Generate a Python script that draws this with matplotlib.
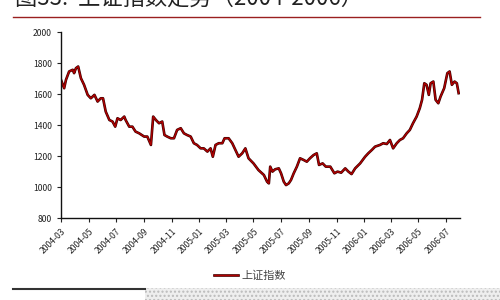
import matplotlib
matplotlib.use('Agg')
import matplotlib.pyplot as plt
import matplotlib.dates as mdates
import matplotlib.patheffects as pe
from matplotlib.lines import Line2D
from matplotlib.patches import Rectangle
import pandas as pd

plt.rcParams['font.family'] = ['Noto Sans CJK SC', 'DejaVu Sans']

# 上证指数 (weekly-ish readings)
dates = [
    '2004-03-01', '2004-03-08', '2004-03-12', '2004-03-19', '2004-03-27', '2004-03-30',
    '2004-04-03', '2004-04-08', '2004-04-14', '2004-04-21', '2004-04-29', '2004-05-06',
    '2004-05-14', '2004-05-21', '2004-05-28', '2004-06-02', '2004-06-08', '2004-06-16',
    '2004-06-23', '2004-06-29', '2004-07-04', '2004-07-11', '2004-07-19', '2004-07-22',
    '2004-07-30', '2004-08-06', '2004-08-13', '2004-08-21', '2004-09-01', '2004-09-08',
    '2004-09-16', '2004-09-21', '2004-09-27', '2004-10-04', '2004-10-11', '2004-10-16',
    '2004-10-22', '2004-10-30', '2004-11-06', '2004-11-13', '2004-11-21', '2004-11-28',
    '2004-12-05', '2004-12-13', '2004-12-20', '2004-12-27', '2005-01-04', '2005-01-11',
    '2005-01-19', '2005-01-26', '2005-01-31', '2005-02-06', '2005-02-13', '2005-02-21',
    '2005-02-26', '2005-03-07', '2005-03-15', '2005-03-22', '2005-03-29', '2005-04-06',
    '2005-04-13', '2005-04-20', '2005-05-01', '2005-05-12', '2005-05-24', '2005-05-31',
    '2005-06-04', '2005-06-07', '2005-06-12', '2005-06-18', '2005-06-26', '2005-07-01',
    '2005-07-07', '2005-07-12', '2005-07-18', '2005-07-23', '2005-07-29', '2005-08-05',
    '2005-08-12', '2005-08-20', '2005-08-27', '2005-09-03', '2005-09-11', '2005-09-18',
    '2005-09-23', '2005-10-01', '2005-10-08', '2005-10-18', '2005-10-27', '2005-11-03',
    '2005-11-11', '2005-11-20', '2005-11-27', '2005-12-04', '2005-12-12', '2005-12-23',
    '2006-01-03', '2006-01-10', '2006-01-18', '2006-01-25', '2006-02-05', '2006-02-12',
    '2006-02-20', '2006-02-27', '2006-03-06', '2006-03-14', '2006-03-21', '2006-03-28',
    '2006-04-05', '2006-04-12', '2006-04-19', '2006-04-27', '2006-05-04', '2006-05-09',
    '2006-05-14', '2006-05-19', '2006-05-24', '2006-05-28', '2006-06-03', '2006-06-08',
    '2006-06-14', '2006-06-19', '2006-06-27', '2006-07-04', '2006-07-09', '2006-07-14',
    '2006-07-20', '2006-07-25', '2006-07-29',
]
index_values = [
    1692, 1638, 1692, 1746, 1757, 1735,
    1767, 1778, 1703, 1660, 1595, 1573,
    1595, 1552, 1573, 1573, 1487, 1433,
    1423, 1390, 1444, 1433, 1455, 1433,
    1390, 1390, 1358, 1347, 1326, 1326,
    1272, 1455, 1433, 1412, 1423, 1336,
    1326, 1315, 1315, 1369, 1380, 1347,
    1336, 1326, 1283, 1272, 1250, 1250,
    1229, 1250, 1196, 1272, 1283, 1283,
    1315, 1315, 1283, 1240, 1196, 1218,
    1250, 1186, 1153, 1110, 1078, 1035,
    1024, 1132, 1100, 1115, 1121, 1089,
    1035, 1013, 1024, 1046, 1089, 1132,
    1186, 1175, 1164, 1186, 1207, 1218,
    1143, 1153, 1132, 1132, 1089, 1100,
    1093, 1121, 1100, 1084, 1121, 1153,
    1196, 1218, 1240, 1261, 1272, 1283,
    1278, 1304, 1250, 1283, 1304, 1315,
    1347, 1369, 1412, 1455, 1509, 1563,
    1670, 1660, 1595, 1670, 1681, 1563,
    1541, 1584, 1638, 1735, 1746, 1660,
    1681, 1670, 1606,
]
series_name = '上证指数'
title_text = '图33:  上证指数走势（2004-2006）'

x = pd.to_datetime(dates)

fig = plt.figure(figsize=(5, 3), dpi=100)
ax = fig.add_axes([0.122, 0.273, 0.798, 0.62])

ax.plot(x, index_values, color='#b00000', lw=1.0, label=series_name,
        path_effects=[pe.Stroke(linewidth=1.9, foreground='#3a0000'), pe.Normal()])

ax.set_ylim(800, 2000)
ax.set_yticks(range(800, 2001, 200))
ax.set_xlim(pd.Timestamp('2004-03-01'), pd.Timestamp('2006-08-01'))
ax.xaxis.set_major_locator(mdates.MonthLocator(bymonth=[1, 3, 5, 7, 9, 11]))
ax.xaxis.set_major_formatter(mdates.DateFormatter('%Y-%m'))
ax.xaxis.set_minor_locator(mdates.MonthLocator())

for s in ['top', 'right']:
    ax.spines[s].set_visible(False)
for s in ['left', 'bottom']:
    ax.spines[s].set_linewidth(1.0)
    ax.spines[s].set_color('#111111')

ax.tick_params(axis='both', labelsize=6.2, colors='#222222', length=3, width=0.8, direction='out')
ax.tick_params(axis='x', which='minor', length=0)
plt.setp(ax.get_xticklabels(), rotation=45, ha='right', rotation_mode='anchor')

leg = fig.legend(loc='center', bbox_to_anchor=(0.5, 0.08), frameon=False,
                 fontsize=8, handlelength=2.2, handletextpad=0.3)
for t in leg.get_texts():
    t.set_color('#444444')

# cut-off title and rules of the report page (the reference crops the title)
fig.text(0.03, 1 - 10 / 300, title_text, fontsize=16, fontweight='medium',
         color='#222222', va='bottom', ha='left')
fig.add_artist(Line2D([0.026, 0.96], [1 - 16.7 / 300] * 2, color='#9a2020', lw=1.0))
fig.add_artist(Line2D([0.026, 0.29], [1 - 289 / 300] * 2, color='#333333', lw=1.5))
fig.add_artist(Rectangle((0.29, 0), 0.71, 12 / 300, facecolor='#eeeeee',
                         edgecolor='#bbbbbb', hatch='....', lw=0))

fig.savefig('out.png', dpi=100)
